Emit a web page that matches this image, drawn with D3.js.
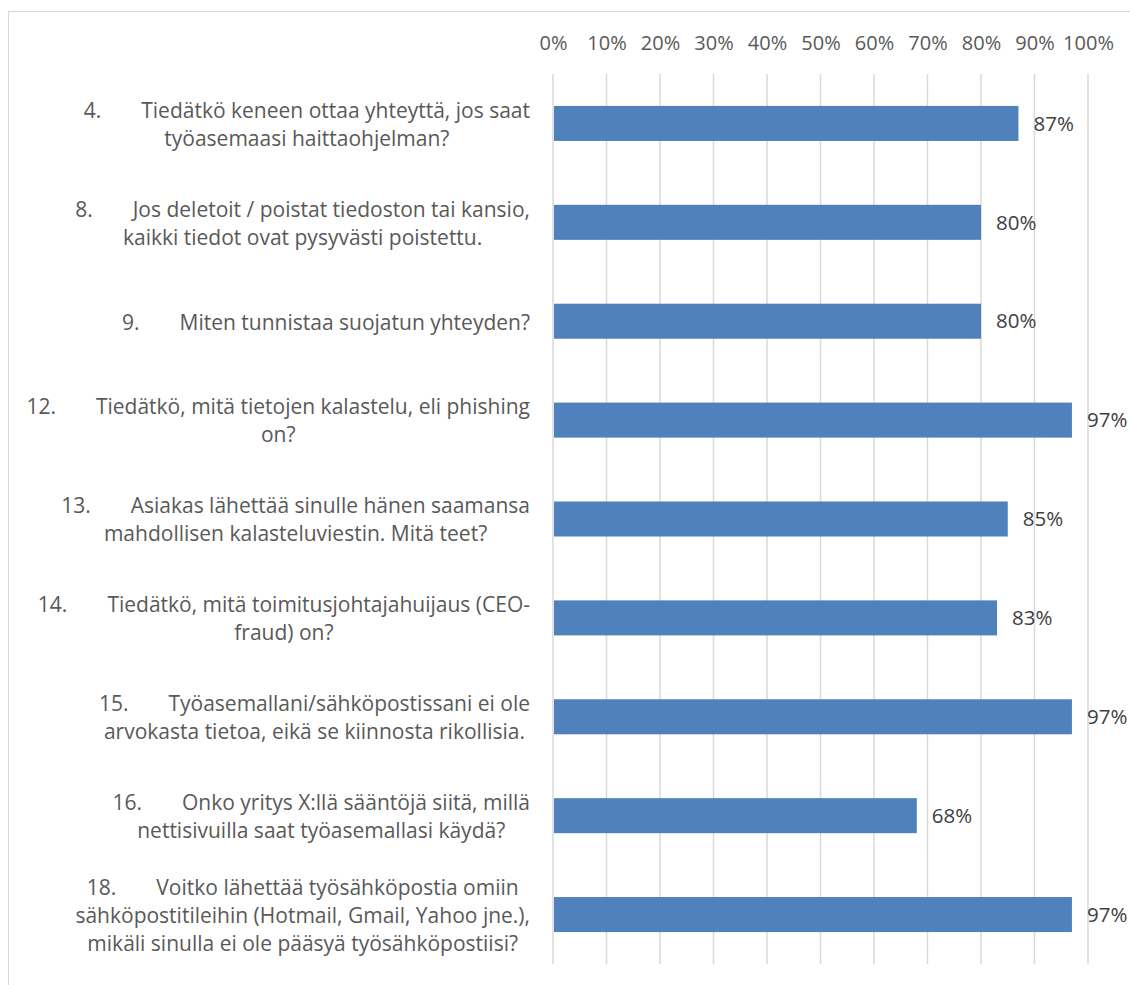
<!DOCTYPE html>
<html>
<head>
<meta charset="utf-8">
<script src="https://cdn.jsdelivr.net/npm/d3@7"></script>
<style>
  html, body { margin: 0; padding: 0; background: #fff; }
  svg { display: block; }
  text { font-family: "Open Sans", Lato, sans-serif; }
</style>
</head>
<body>
<svg id="chart" width="1130" height="985"></svg>
<script>
const questionNumbers = ["4.", "8.", "9.", "12.", "13.", "14.", "15.", "16.", "18."];
const questionLines = [
  ["Tiedätkö keneen ottaa yhteyttä, jos saat", "työasemaasi haittaohjelman?"],
  ["Jos deletoit / poistat tiedoston tai kansio,", "kaikki tiedot ovat pysyvästi poistettu."],
  ["Miten tunnistaa suojatun yhteyden?"],
  ["Tiedätkö, mitä tietojen kalastelu, eli phishing", "on?"],
  ["Asiakas lähettää sinulle hänen saamansa", "mahdollisen kalasteluviestin. Mitä teet?"],
  ["Tiedätkö, mitä toimitusjohtajahuijaus (CEO-", "fraud) on?"],
  ["Työasemallani/sähköpostissani ei ole", "arvokasta tietoa, eikä se kiinnosta rikollisia."],
  ["Onko yritys X:llä sääntöjä siitä, millä", "nettisivuilla saat työasemallasi käydä?"],
  ["Voitko lähettää työsähköpostia omiin", "sähköpostitileihin (Hotmail, Gmail, Yahoo jne.),", "mikäli sinulla ei ole pääsyä työsähköpostiisi?"]
];
const values = [0.87, 0.80, 0.80, 0.97, 0.85, 0.83, 0.97, 0.68, 0.97];
const valueLabels = ["87%", "80%", "80%", "97%", "85%", "83%", "97%", "68%", "97%"];
const tickValues = [0, 0.1, 0.2, 0.3, 0.4, 0.5, 0.6, 0.7, 0.8, 0.9, 1.0];
const tickLabels = ["0%", "10%", "20%", "30%", "40%", "50%", "60%", "70%", "80%", "90%", "100%"];

const svg = d3.select("#chart");
const LABEL_FONT = 21;
const TICK_FONT = 20;
const VALUE_FONT = 20.5;
const LINE_H = 28;
const GAP = 40;
const LABEL_RIGHT = 530;
const FAMILY = "'Open Sans', Lato, sans-serif";

// outer chart border
svg.append("rect")
  .attr("x", 8.5).attr("y", 11.5)
  .attr("width", 1140).attr("height", 1000)
  .attr("fill", "none").attr("stroke", "#d9d9d9").attr("stroke-width", 1);

const x = d3.scaleLinear().domain([0, 1]).range([553, 1088]);
const y = d3.scaleBand().domain(questionNumbers).range([74, 964])
  .paddingInner(0.646).paddingOuter(0.323);

// gridlines
svg.append("g").selectAll("line").data(tickValues).join("line")
  .attr("x1", d => x(d)).attr("x2", d => x(d))
  .attr("y1", 74).attr("y2", 964)
  .attr("stroke", "#d9d9d9").attr("stroke-width", 1.5);

// top axis labels
const xAxis = d3.axisTop(x).tickValues(tickValues)
  .tickFormat((d, i) => tickLabels[i]).tickSize(0).tickPadding(0);
const gx = svg.append("g").attr("transform", "translate(0,50)").call(xAxis);
gx.select(".domain").remove();
gx.selectAll("text").attr("font-size", TICK_FONT).attr("fill", "#595959")
  .attr("font-family", FAMILY).attr("dy", 0);

// bars
svg.append("g").selectAll("rect").data(values).join("rect")
  .attr("x", x(0) + 1)
  .attr("y", (d, i) => y(questionNumbers[i]))
  .attr("width", d => x(d) - x(0) - 1)
  .attr("height", y.bandwidth())
  .attr("fill", "#4f81bd");

// value labels
svg.append("g").selectAll("text").data(values).join("text")
  .attr("x", d => x(d) + 15)
  .attr("y", (d, i) => y(questionNumbers[i]) + y.bandwidth() / 2)
  .attr("dy", "0.35em")
  .attr("font-size", VALUE_FONT).attr("fill", "#404040")
  .text((d, i) => valueLabels[i]);

// category labels (multi-line, centered block, right aligned)
const lg = svg.append("g");
questionNumbers.forEach((num, i) => {
  const lines = questionLines[i];
  const n = lines.length;
  const cy = y(num) + y.bandwidth() / 2 + 1;
  const items = [];
  lines.forEach((ln, j) => {
    const ly = cy + (j - (n - 1) / 2) * LINE_H;
    if (j === 0) {
      const tn = lg.append("text").attr("font-size", LABEL_FONT).attr("fill", "#595959")
        .attr("y", ly).attr("dy", "0.35em").text(num);
      const tr = lg.append("text").attr("font-size", LABEL_FONT).attr("fill", "#595959")
        .attr("y", ly).attr("dy", "0.35em").text(ln);
      const wn = tn.node().getComputedTextLength();
      const wr = tr.node().getComputedTextLength();
      items.push({ parts: [tn, tr], widths: [wn, wr], w: wn + GAP + wr });
    } else {
      const t = lg.append("text").attr("font-size", LABEL_FONT).attr("fill", "#595959")
        .attr("y", ly).attr("dy", "0.35em").text(ln);
      const w = t.node().getComputedTextLength();
      items.push({ parts: [t], widths: [w], w: w });
    }
  });
  const maxW = d3.max(items, d => d.w);
  const cx = LABEL_RIGHT - maxW / 2;
  items.forEach(it => {
    const left = cx - it.w / 2;
    if (it.parts.length === 2) {
      it.parts[0].attr("x", left);
      it.parts[1].attr("x", left + it.widths[0] + GAP);
    } else {
      it.parts[0].attr("x", left);
    }
  });
});
</script>
</body>
</html>
